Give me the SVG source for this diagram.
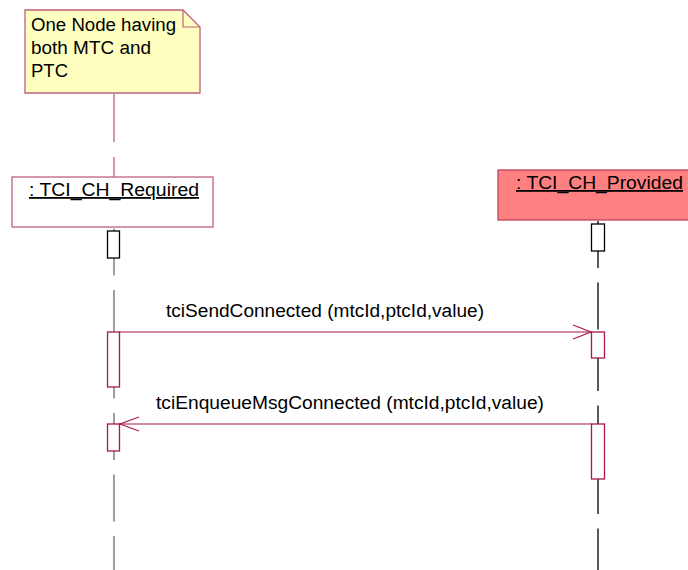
<svg xmlns="http://www.w3.org/2000/svg" width="688" height="570" viewBox="0 0 688 570">
<style>
text{font-family:"Liberation Sans",Arial,sans-serif;font-size:18px;fill:#000}
.u{text-decoration:underline}
.msg{stroke:#a8174a;stroke-width:1.2;fill:none}
.act{fill:#fff;stroke:#a8174a;stroke-width:1.3}
.act0{fill:#fff;stroke:#000;stroke-width:1.3}
</style>
<rect width="688" height="570" fill="#fff"/>
<g id="note">
<polygon points="25,10 183,10 200,27 200,93 25,93" fill="#ffffc0" stroke="#c06080" stroke-width="1.3"/>
<polyline points="183,10 183,27 200,27" fill="none" stroke="#c06080" stroke-width="1.2"/>
<text x="31" y="31" textLength="145" lengthAdjust="spacingAndGlyphs">One Node having</text>
<text x="31" y="54" textLength="120" lengthAdjust="spacingAndGlyphs">both MTC and</text>
<text x="31" y="77" textLength="37" lengthAdjust="spacingAndGlyphs">PTC</text>
</g>
<g id="note-link">
<line x1="114" y1="94" x2="114" y2="177" stroke="#c06080" stroke-width="1.3" stroke-dasharray="48 15"/>
</g>
<g id="required">
<rect x="12" y="177" width="201" height="50" fill="#fff" stroke="#c06080" stroke-width="1.3"/>
<text x="29" y="196" class="u" textLength="170" lengthAdjust="spacingAndGlyphs"> : TCI_CH_Required</text>
<line x1="114" y1="228.5" x2="114" y2="570" stroke="#808080" stroke-width="1.5" stroke-dasharray="47 14.5"/>
<rect class="act0" x="107.5" y="231" width="12" height="27"/>
<rect class="act" x="107.5" y="332" width="12" height="55"/>
<rect class="act" x="107.5" y="424" width="12" height="27"/>
</g>
<g id="provided">
<rect x="498" y="170" width="200" height="50" fill="#ff8080" stroke="#c04060" stroke-width="1.3"/>
<text x="516" y="189" class="u" textLength="167" lengthAdjust="spacingAndGlyphs"> : TCI_CH_Provided</text>
<line x1="598" y1="221" x2="598" y2="570" stroke="#000" stroke-width="1.3" stroke-dasharray="47 14.5"/>
<rect class="act0" x="591.5" y="224" width="13" height="27"/>
<rect class="act" x="591.5" y="332" width="13" height="26"/>
<rect class="act" x="591.5" y="424" width="13" height="55"/>
</g>
<g id="connectors">
<line class="msg" x1="119.5" y1="332" x2="591.5" y2="332"/>
<polyline class="msg" points="573,325 591,332 573,339"/>
<text x="166" y="317" textLength="318" lengthAdjust="spacingAndGlyphs">tciSendConnected (mtcId,ptcId,value)</text>
<line class="msg" x1="591.5" y1="424" x2="119.5" y2="424"/>
<polyline class="msg" points="139,417 120,424 139,431"/>
<text x="156" y="409" textLength="388" lengthAdjust="spacingAndGlyphs">tciEnqueueMsgConnected (mtcId,ptcId,value)</text>
</g>
</svg>
